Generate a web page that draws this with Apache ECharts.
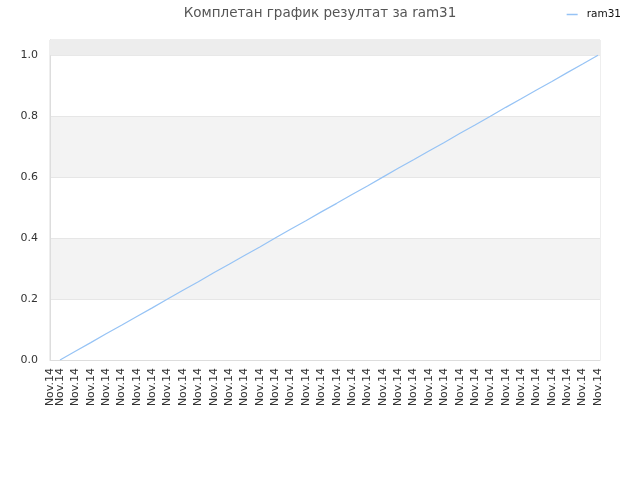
<!DOCTYPE html>
<html>
<head>
<meta charset="utf-8">
<script src="https://cdn.jsdelivr.net/npm/echarts@6/dist/echarts.min.js"></script>
<style>html,body{margin:0;padding:0;background:#fff}#c{width:640px;height:480px}</style>
</head>
<body>
<div id="c"></div>
<script>
var titleText = 'Комплетан график резултат за ram31';
var seriesName = 'ram31';
var startLabel = 'Nov.14';
var xLabels = ['Nov.14','Nov.14','Nov.14','Nov.14','Nov.14','Nov.14','Nov.14','Nov.14','Nov.14','Nov.14',
  'Nov.14','Nov.14','Nov.14','Nov.14','Nov.14','Nov.14','Nov.14','Nov.14','Nov.14','Nov.14',
  'Nov.14','Nov.14','Nov.14','Nov.14','Nov.14','Nov.14','Nov.14','Nov.14','Nov.14','Nov.14',
  'Nov.14','Nov.14','Nov.14','Nov.14','Nov.14','Nov.14'];
var values = [0, 0.029, 0.057, 0.086, 0.114, 0.143, 0.171, 0.2, 0.229, 0.257, 0.286, 0.314,
  0.343, 0.371, 0.4, 0.429, 0.457, 0.486, 0.514, 0.543, 0.571, 0.6, 0.629, 0.657,
  0.686, 0.714, 0.743, 0.771, 0.8, 0.829, 0.857, 0.886, 0.914, 0.943, 0.971, 1];
var yTicks = [0, 0.2, 0.4, 0.6, 0.8, 1.0];

var xMin = -0.65, xMax = 35.13;
var xTickVals = values.map(function(v, i){ return i; });

var labelStyle = {rotate: 90, margin: 8, hideOverlap: false,
  fontFamily: 'DejaVu Sans', fontSize: 11, color: '#333'};

var chart = echarts.init(document.getElementById('c'));
chart.setOption({
  animation: false,
  backgroundColor: '#fff',
  title: {
    text: titleText, left: 'center', top: 1,
    textStyle: {fontFamily: 'DejaVu Sans', fontSize: 13.5, fontWeight: 'normal', color: '#555'}
  },
  legend: {
    right: 14, top: 4, icon: 'rect', itemWidth: 11, itemHeight: 1.5,
    textStyle: {fontFamily: 'DejaVu Sans', fontSize: 10.5, color: '#111', padding: [0,0,0,4]},
    data: [seriesName]
  },
  grid: {left: 50, right: 40, top: 40, bottom: 120, show: true, borderColor: '#ddd', borderWidth: 1},
  xAxis: [{
    type: 'value', min: xMin, max: xMax, position: 'bottom',
    axisLine: {show: true, onZero: false, lineStyle: {color: '#ddd'}},
    axisTick: {show: false},
    splitLine: {show: false},
    axisLabel: Object.assign({}, labelStyle, {
      customValues: xTickVals, showMinLabel: true, showMaxLabel: true,
      formatter: function(v){ return xLabels[Math.round(v)] || ''; }
    })
  }, {
    type: 'value', min: xMin, max: xMax, position: 'bottom',
    axisLine: {show: false, onZero: false},
    axisTick: {show: false},
    splitLine: {show: false},
    axisLabel: Object.assign({}, labelStyle, {
      customValues: [xMin], showMinLabel: true,
      formatter: function(){ return startLabel; }
    })
  }],
  yAxis: {
    type: 'value', min: 0, max: 1.05, interval: 0.2,
    axisLine: {show: true, onZero: false, lineStyle: {color: '#ddd'}},
    axisTick: {show: false},
    axisLabel: {
      customValues: yTicks, margin: 12,
      fontFamily: 'DejaVu Sans', fontSize: 11, color: '#333',
      formatter: function(v){ return v.toFixed(1); }
    },
    splitLine: {show: true, lineStyle: {color: '#e6e6e6'}},
    splitArea: {show: true, areaStyle: {color: ['#ffffff', '#f3f3f3']}}
  },
  series: [{
    name: seriesName, type: 'line', symbol: 'none', xAxisIndex: 0,
    lineStyle: {color: '#96c3f5', width: 1.2},
    itemStyle: {color: '#96c3f5'},
    data: values.map(function(v, i){ return [i, v]; }),
    markArea: {
      silent: true,
      itemStyle: {color: '#ededed'},
      data: [[{yAxis: 1.0}, {yAxis: 1.05}]]
    }
  }]
});
</script>
</body>
</html>
